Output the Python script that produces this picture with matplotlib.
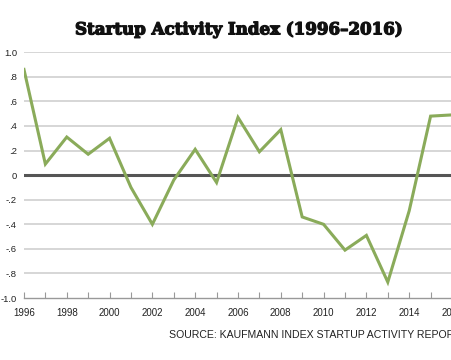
import matplotlib
matplotlib.use('Agg')
import matplotlib.pyplot as plt
import matplotlib.patheffects as pe

# Startup Activity Index, 1996-2016
years = [1996, 1997, 1998, 1999, 2000, 2001, 2002, 2003, 2004, 2005, 2006,
         2007, 2008, 2009, 2010, 2011, 2012, 2013, 2014, 2015, 2016]
index = [0.86, 0.09, 0.31, 0.17, 0.30, -0.10, -0.40, -0.04, 0.21, -0.06, 0.47,
         0.19, 0.37, -0.34, -0.40, -0.61, -0.49, -0.87, -0.29, 0.48, 0.49]

y_ticks = [1.0, 0.8, 0.6, 0.4, 0.2, 0.0, -0.2, -0.4, -0.6, -0.8, -1.0]
y_labels = ['1.0', '.8', '.6', '.4', '.2', '0', '-.2', '-.4', '-.6', '-.8', '-1.0']
x_labels = list(range(1996, 2017, 2))

plt.rcParams['font.family'] = ['Liberation Sans', 'DejaVu Sans']

fig = plt.figure(figsize=(4.52, 3.6), dpi=100)
ax = fig.add_axes([0.053, 0.172, 0.947, 0.683])

# grid
for y in y_ticks:
    if y == 0:
        ax.axhline(y, color='#555555', lw=2.2, zorder=2)
    elif y != -1.0:
        ax.axhline(y, color='#cccccc', lw=1.1, zorder=1)

ax.plot(years, index, color='#8aab5a', lw=2.2, zorder=3, solid_joinstyle='miter')

ax.set_xlim(1996, 2016)
ax.set_ylim(-1.0, 1.0)
ax.set_yticks(y_ticks)
ax.set_yticklabels(y_labels)
ax.set_xticks(range(1996, 2017))
ax.set_xticklabels([str(y) if y in x_labels else '' for y in range(1996, 2017)])

for side in ['top', 'right', 'left']:
    ax.spines[side].set_visible(False)
ax.spines['bottom'].set_color('#999999')
ax.spines['bottom'].set_linewidth(1.0)

ax.tick_params(axis='x', direction='in', length=4, color='#999999',
               labelsize=7, pad=7, labelcolor='#222222')
ax.tick_params(axis='y', length=0, labelsize=6.8, pad=5, labelcolor='#222222')

fig.text(0.527, 0.917, 'Startup Activity Index (1996\u20132016)',
         ha='center', va='center', fontsize=12.0, fontweight='bold',
         family=['DejaVu Serif'], color='#111111',
         path_effects=[pe.withStroke(linewidth=0.9, foreground='#111111')])
fig.text(0.374, 0.07, 'SOURCE: KAUFMANN INDEX STARTUP ACTIVITY REPORT',
         ha='left', va='center', fontsize=7.6, color='#222222')

fig.savefig('out.png', dpi=100)
